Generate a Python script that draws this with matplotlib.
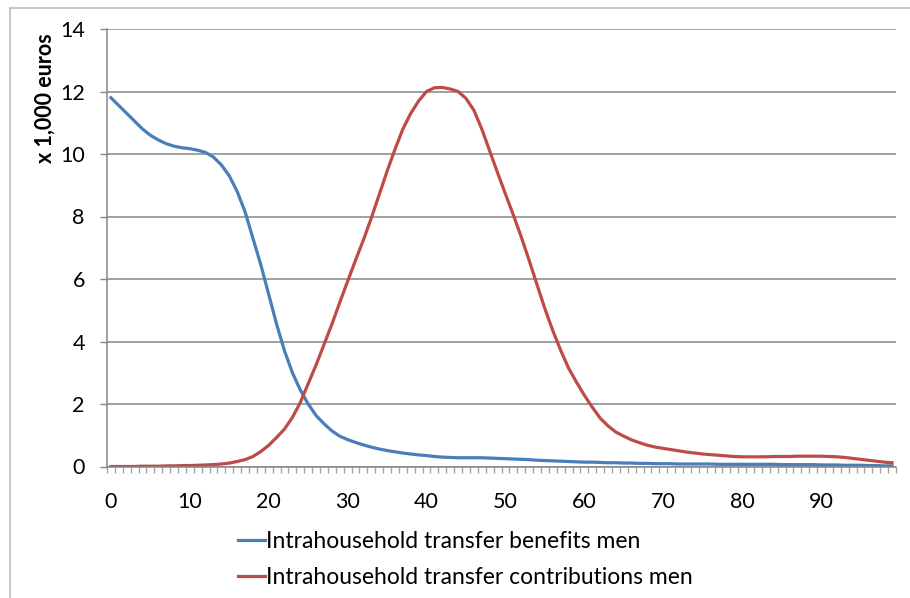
import numpy as np
import matplotlib.pyplot as plt
from matplotlib.lines import Line2D
from matplotlib.ticker import MultipleLocator, FixedLocator

plt.rcParams['font.family'] = ['Lato', 'DejaVu Sans']

# ages 0..99, values in thousands of euros
ages = np.arange(100)

benefits_men = [
    11.80, 11.55, 11.30, 11.05, 10.80, 10.60, 10.45, 10.33, 10.25, 10.20,
    10.17, 10.12, 10.05, 9.90, 9.65, 9.30, 8.80, 8.15, 7.30, 6.45,
    5.50, 4.55, 3.70, 3.00, 2.45, 2.00, 1.63, 1.37, 1.14, 0.97,
    0.86, 0.77, 0.69, 0.62, 0.56, 0.51, 0.47, 0.43, 0.40, 0.37,
    0.35, 0.32, 0.30, 0.29, 0.28, 0.28, 0.28, 0.28, 0.27, 0.26,
    0.25, 0.24, 0.23, 0.22, 0.20, 0.19, 0.18, 0.17, 0.16, 0.15,
    0.14, 0.14, 0.13, 0.12, 0.12, 0.11, 0.11, 0.10, 0.10, 0.09,
    0.09, 0.09, 0.08, 0.08, 0.08, 0.08, 0.08, 0.07, 0.07, 0.07,
    0.07, 0.07, 0.07, 0.07, 0.07, 0.06, 0.06, 0.06, 0.06, 0.06,
    0.05, 0.05, 0.05, 0.04, 0.04, 0.04, 0.03, 0.03, 0.02, 0.02,
]

contributions_men = [
    0.00, 0.00, 0.00, 0.00, 0.01, 0.01, 0.01, 0.02, 0.02, 0.03,
    0.03, 0.04, 0.05, 0.06, 0.08, 0.11, 0.16, 0.22, 0.32, 0.48,
    0.68, 0.93, 1.20, 1.57, 2.05, 2.65, 3.25, 3.90, 4.55, 5.25,
    5.93, 6.60, 7.25, 7.95, 8.70, 9.45, 10.15, 10.80, 11.30, 11.70,
    12.00, 12.12, 12.13, 12.08, 12.00, 11.78, 11.40, 10.80, 10.10, 9.40,
    8.72, 8.05, 7.35, 6.60, 5.82, 5.05, 4.35, 3.72, 3.15, 2.70,
    2.28, 1.90, 1.55, 1.30, 1.10, 0.97, 0.85, 0.76, 0.68, 0.62,
    0.58, 0.54, 0.50, 0.46, 0.43, 0.40, 0.38, 0.36, 0.34, 0.32,
    0.31, 0.31, 0.31, 0.31, 0.32, 0.32, 0.32, 0.33, 0.33, 0.33,
    0.33, 0.32, 0.31, 0.29, 0.26, 0.23, 0.20, 0.17, 0.14, 0.12,
]

x_labels = [0, 10, 20, 30, 40, 50, 60, 70, 80, 90]

W, H = 910, 598
fig = plt.figure(figsize=(W / 100, H / 100), dpi=100)
ax = fig.add_axes([107 / W, 1 - 466.5 / H, 789 / W, 437.5 / H])

grey = '#868686'
ax.plot(ages, benefits_men, color='#4a7ebb', lw=2.3, solid_joinstyle='round',
        label='Intrahousehold transfer benefits men')
ax.plot(ages, contributions_men, color='#be4b48', lw=2.3, solid_joinstyle='round',
        label='Intrahousehold transfer contributions men')

ax.set_xlim(-0.5, 99.5)
ax.set_ylim(0, 14)
ax.yaxis.set_major_locator(MultipleLocator(2))
ax.grid(axis='y', color=grey, lw=1.1)
ax.set_axisbelow(True)

# category axis: tick marks between categories, labels every 10
ax.xaxis.set_major_locator(FixedLocator(x_labels))
ax.xaxis.set_minor_locator(FixedLocator(np.arange(-0.5, 100, 1)))
ax.tick_params(axis='x', which='major', length=0, pad=18, labelsize=15.5)
ax.tick_params(axis='x', which='minor', length=4.5, width=1, color='#a6a6a6')
ax.tick_params(axis='y', length=5, width=1, color=grey, pad=11, labelsize=15.5)

for side in ['top', 'right']:
    ax.spines[side].set_visible(False)
for side in ['left', 'bottom']:
    ax.spines[side].set_color(grey)
    ax.spines[side].set_linewidth(1.1)

fig.text(45 / W, 1 - 33 / H, 'x 1,000 euros', rotation=90, ha='center', va='top',
         fontsize=15.5, fontweight='bold')

# chart area border (left and top edges)
fig.add_artist(Line2D([10 / W, 10 / W], [0, 1 - 8 / H], color='#bfbfbf', lw=1.2,
                      transform=fig.transFigure))
fig.add_artist(Line2D([10 / W, 1], [1 - 8 / H, 1 - 8 / H], color='#bfbfbf', lw=1.2,
                      transform=fig.transFigure))

fig.legend(loc='upper left', bbox_to_anchor=(229 / W, 1 - 522 / H), frameon=False,
           fontsize=16.5, handlelength=1.15, handletextpad=0.08, labelspacing=0.65,
           borderaxespad=0)

fig.savefig('out.png', dpi=100)
